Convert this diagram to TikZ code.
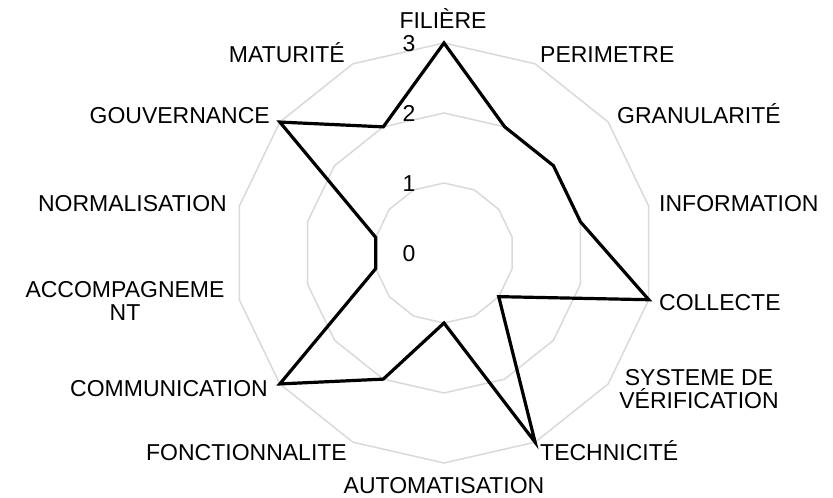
\documentclass[tikz,border=0pt]{standalone}
\usepackage{fontspec}
\setmainfont{Liberation Sans}
\usepackage{tikz}
\usetikzlibrary{positioning}
\newcommand{\chartfont}{\fontsize{23}{23}\selectfont}

\begin{document}
\begin{tikzpicture}[x=1pt,y=1pt,
    gridline/.style={draw=black!15, line width=1.5pt},
    series/.style={draw=black, line width=3.2pt, line join=miter},
    catlabel/.style={font=\chartfont, inner sep=0pt, text height=16.5pt, text depth=0pt},
    twoline/.style={font=\chartfont, inner sep=0pt, align=center},
    ticklabel/.style={font=\chartfont, inner sep=0pt, text height=16.5pt, text depth=0pt}]
    \useasboundingbox (0,0) rectangle (833,498);
    \coordinate (ctr) at (444,245);
    % grid and series
    \begin{scope}[shift={(ctr)}]
      \foreach \k in {1,2,3}
        \draw[gridline] (90:\k*70) \foreach \i in {1,...,13} {-- (90-\i*360/14:\k*70)} -- cycle;
      \foreach \v [count=\i from 0] in {3,2,2,2,3,1,3,1,2,3,1,1,3,2}
        \coordinate (p\i) at (90-\i*360/14:\v*70);
    \end{scope}
    \draw[series] (p0) -- (p1) -- (p2) -- (p3) -- (p4) -- (p5) -- (p6) -- (p7)
      -- (p8) -- (p9) -- (p10) -- (p11) -- (p12) -- (p13) -- cycle;
    % value axis
    \foreach \k in {0,1,2,3}
      \node[ticklabel] (t\k) at (409,245+\k*70) {\k};
    % categories
    \node[catlabel]              (filiere) at (443,478) {FILIÈRE};
    \node[catlabel, anchor=west] (perim)   at (540,444) {PERIMETRE};
    \node[catlabel, anchor=west] (granul)  at (617,383) {GRANULARITÉ};
    \node[catlabel, anchor=west] (info)    at (659,295) {INFORMATION};
    \node[catlabel, anchor=west] (collect) at (659,196) {COLLECTE};
    \node[twoline]               (verif)   at (699,109) {SYSTEME DE\\VÉRIFICATION};
    \node[catlabel, anchor=west] (techn)   at (540,46)  {TECHNICITÉ};
    \node[catlabel]              (autom)   at (444,13)  {AUTOMATISATION};
    \node[catlabel, anchor=east] (fonct)   at (347,46)  {FONCTIONNALITE};
    \node[catlabel, anchor=east] (comm)    at (268,110) {COMMUNICATION};
    \node[twoline]               (accomp)  at (125,197) {ACCOMPAGNEME\\NT};
    \node[catlabel, anchor=east] (norm)    at (227,295) {NORMALISATION};
    \node[catlabel, anchor=east] (gouv)    at (270,383) {GOUVERNANCE};
    \node[catlabel, anchor=east] (matur)   at (345,444) {MATURITÉ};
\end{tikzpicture}
\end{document}
